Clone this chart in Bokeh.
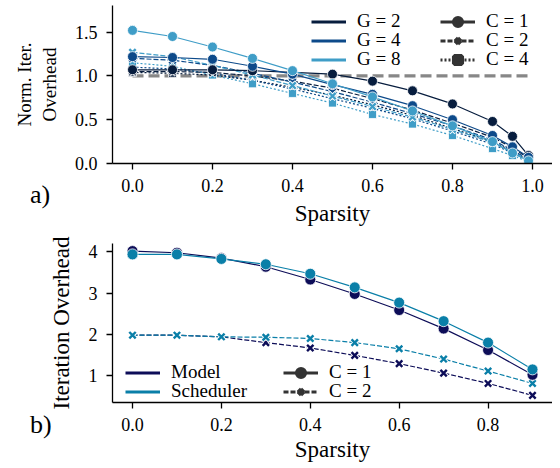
import math
import numpy as np
from bokeh.plotting import figure
from bokeh.models import (Range1d, Legend, LegendItem, FixedTicker,
                          PrintfTickFormatter, Div)
from bokeh.layouts import column
from bokeh.embed import file_html
from bokeh.resources import INLINE

FONT = "Liberation Serif"

# ---------------- data: panel a) ----------------
sparsity_a = [0.0, 0.1, 0.2, 0.3, 0.4, 0.5, 0.6, 0.7, 0.8, 0.9, 0.95, 0.99]
g2_c1 = [1.07, 1.07, 1.07, 1.06, 1.04, 1.02, 0.94, 0.83, 0.68, 0.48, 0.31, 0.09]
g4_c1 = [1.22, 1.21, 1.19, 1.11, 1.02, 0.90, 0.79, 0.66, 0.50, 0.32, 0.19, 0.07]
g8_c1 = [1.52, 1.45, 1.33, 1.20, 1.06, 0.91, 0.76, 0.60, 0.43, 0.25, 0.12, 0.03]
g2_c2 = [1.05, 1.05, 1.04, 1.00, 0.94, 0.86, 0.74, 0.61, 0.46, 0.30, 0.18, 0.06]
g4_c2 = [1.20, 1.18, 1.12, 1.03, 0.93, 0.82, 0.70, 0.57, 0.43, 0.27, 0.15, 0.05]
g8_c2 = [1.27, 1.22, 1.12, 1.01, 0.89, 0.77, 0.65, 0.53, 0.39, 0.24, 0.13, 0.04]
g2_c4 = [1.04, 1.03, 1.01, 0.95, 0.87, 0.78, 0.67, 0.55, 0.40, 0.25, 0.14, 0.04]
g4_c4 = [1.10, 1.08, 1.03, 0.95, 0.85, 0.74, 0.63, 0.51, 0.37, 0.22, 0.12, 0.03]
g8_c4 = [1.15, 1.11, 1.01, 0.91, 0.80, 0.69, 0.56, 0.45, 0.32, 0.17, 0.09, 0.02]
ref_level = [1.0, 1.0]
ref_span = [0.0, 0.99]
g_labels = ["G = 2", "G = 4", "G = 8"]
c_labels_a = ["C = 1", "C = 2", "C = 4"]
ticks_a_x = [0.0, 0.2, 0.4, 0.6, 0.8, 1.0]
ticks_a_y = [0.0, 0.5, 1.0, 1.5]

# ---------------- data: panel b) ----------------
sparsity_b = [0.0, 0.1, 0.2, 0.3, 0.4, 0.5, 0.6, 0.7, 0.8, 0.9]
model_c1 = [4.02, 3.98, 3.85, 3.64, 3.33, 2.98, 2.59, 2.14, 1.62, 1.02]
sched_c1 = [3.94, 3.94, 3.83, 3.70, 3.47, 3.14, 2.77, 2.32, 1.80, 1.15]
model_c2 = [1.98, 1.98, 1.94, 1.80, 1.67, 1.49, 1.29, 1.06, 0.81, 0.52]
sched_c2 = [1.98, 1.98, 1.94, 1.93, 1.90, 1.80, 1.65, 1.40, 1.11, 0.81]
src_labels = ["Model", "Scheduler"]
c_labels_b = ["C = 1", "C = 2"]
ticks_b_x = [0.0, 0.2, 0.4, 0.6, 0.8]
ticks_b_y = [1, 2, 3, 4]

# ---------------- styles ----------------
G_COLORS = ["#071d3e", "#0d4a8a", "#3f9dc7"]
SRC_COLORS = ["#0d0d58", "#0a7fa8"]
C_STYLE = {1: ("circle", "solid"), 2: ("x", "5 2"), 4: ("square", "2 2")}
LEG_GRAY = "#333333"
NO_DATA = np.array([np.nan])  # legend-only renderers (never visible)


def style_axes(p, fmt_x, fmt_y):
    p.outline_line_color = None
    p.grid.visible = False
    for ax in (p.xaxis[0], p.yaxis[0]):
        ax.axis_line_width = 1.3
        ax.axis_line_color = "black"
        ax.major_tick_out = 6
        ax.major_tick_in = 0
        ax.minor_tick_out = 0
        ax.minor_tick_in = 0
        ax.major_tick_line_width = 1.3
        ax.major_label_text_font = FONT
        ax.major_label_text_font_size = "18px"
        ax.major_label_text_color = "black"
        ax.major_label_standoff = 9
        ax.axis_label_text_font = FONT
        ax.axis_label_text_font_size = "23px"
        ax.axis_label_text_font_style = "normal"
        ax.axis_label_text_color = "black"
    p.xaxis[0].formatter = PrintfTickFormatter(format=fmt_x)
    p.yaxis[0].formatter = PrintfTickFormatter(format=fmt_y)


def draw_series(p, x, y, color, marker, dash, msize=10):
    p.line(x, y, line_color=color, line_width=1.2, line_dash=dash)
    if marker == "circle":
        p.scatter(x, y, marker="circle", size=msize, fill_color=color,
                  line_color="white", line_width=0.8)
    elif marker == "square":
        p.scatter(x, y, marker="square", size=msize - 2, fill_color=color,
                  line_color="white", line_width=0.8)
    else:
        p.scatter(x, y, marker="x", size=msize, line_color="white",
                  line_width=4.2)
        p.scatter(x, y, marker="x", size=msize - 1, line_color=color,
                  line_width=2.4)


def legend_marker(p, marker, dash):
    rl = p.line(NO_DATA, NO_DATA, line_color=LEG_GRAY, line_width=3,
                line_dash=dash)
    if marker == "x":
        rm = p.scatter(NO_DATA, NO_DATA, marker="x", line_color=LEG_GRAY,
                       line_width=4.5)
    else:
        rm = p.scatter(NO_DATA, NO_DATA, marker=marker, fill_color=LEG_GRAY,
                       line_color=LEG_GRAY, line_width=4.5)
    return [rl, rm]


def add_legend_rows(p, items, vx, vys):
    # one single-entry legend per row, so the row pitch can be set exactly
    for item, vy in zip(items, vys):
        p.add_layout(Legend(items=[item], location=(vx, vy),
                            glyph_width=35, glyph_height=19, label_height=19,
                            label_standoff=11, spacing=0, padding=0, margin=0,
                            border_line_color=None, background_fill_alpha=0,
                            label_text_font=FONT, label_text_font_size="19px",
                            label_text_color="black"))


def panel_tag(text, left, top):
    return Div(text=text, styles={"position": "absolute", "left": f"{left}px",
                                  "top": f"{top}px", "font-family": FONT,
                                  "font-size": "26px", "line-height": "1",
                                  "color": "black"})


# ================= panel a) =================
p1 = figure(width=552, height=233, x_range=Range1d(-0.05, 1.05),
            y_range=Range1d(0.0, 1.804), output_backend="svg",
            toolbar_location=None, min_border_left=112, min_border_right=0,
            min_border_top=5, min_border_bottom=70)
p1.xaxis.axis_label = "Sparsity"
p1.yaxis.axis_label = "Norm. Iter.\nOverhead"
p1.xaxis.ticker = FixedTicker(ticks=ticks_a_x)
p1.yaxis.ticker = FixedTicker(ticks=ticks_a_y)
style_axes(p1, "%.1f", "%.1f")
p1.xaxis[0].axis_label_standoff = 6
p1.yaxis[0].axis_label_standoff = 12
p1.yaxis[0].axis_label_text_font_size = "19px"

p1.line(ref_span, ref_level, line_color="#878787", line_width=3.2,
        line_dash="11 5")

series_a = {
    4: [g2_c4, g4_c4, g8_c4],
    2: [g2_c2, g4_c2, g8_c2],
    1: [g2_c1, g4_c1, g8_c1],
}
for c in (4, 2, 1):
    marker, dash = C_STYLE[c]
    for vals, col in zip(series_a[c], G_COLORS):
        draw_series(p1, sparsity_a, vals, col, marker, dash)

g_items = []
for lab, col in zip(g_labels, G_COLORS):
    r = p1.line(NO_DATA, NO_DATA, line_color=col, line_width=3)
    g_items.append(LegendItem(label=lab, renderers=[r]))
c_items_a = []
for lab, c in zip(c_labels_a, (1, 2, 4)):
    marker, dash = C_STYLE[c]
    c_items_a.append(LegendItem(label=lab, renderers=legend_marker(p1, marker, dash)))
add_legend_rows(p1, g_items, 199, (131, 112, 93))
add_legend_rows(p1, c_items_a, 328, (131, 112, 93))

# ================= panel b) =================
p2 = figure(width=552, height=231, x_range=Range1d(-0.045, 0.945),
            y_range=Range1d(0.347, 4.204), output_backend="svg",
            toolbar_location=None, min_border_left=112, min_border_right=0,
            min_border_top=10, min_border_bottom=57)
p2.xaxis.axis_label = "Sparsity"
p2.yaxis.axis_label = "Iteration Overhead"
p2.xaxis.ticker = FixedTicker(ticks=ticks_b_x)
p2.yaxis.ticker = FixedTicker(ticks=ticks_b_y)
style_axes(p2, "%.1f", "%d")
p2.xaxis[0].axis_label_standoff = 3
p2.yaxis[0].axis_label_standoff = 12

draw_series(p2, sparsity_b, model_c2, SRC_COLORS[0], "x", "5 2", msize=10)
draw_series(p2, sparsity_b, sched_c2, SRC_COLORS[1], "x", "5 2", msize=10)
draw_series(p2, sparsity_b, model_c1, SRC_COLORS[0], "circle", "solid", msize=11)
draw_series(p2, sparsity_b, sched_c1, SRC_COLORS[1], "circle", "solid", msize=11)

s_items = []
for lab, col in zip(src_labels, SRC_COLORS):
    r = p2.line(NO_DATA, NO_DATA, line_color=col, line_width=3)
    s_items.append(LegendItem(label=lab, renderers=[r]))
c_items_b = []
for lab, c in zip(c_labels_b, (1, 2)):
    marker, dash = C_STYLE[c]
    c_items_b.append(LegendItem(label=lab, renderers=legend_marker(p2, marker, dash)))
add_legend_rows(p2, s_items, 13, (19, 0))
add_legend_rows(p2, c_items_b, 171, (19, 0))

layout = column(p1, p2, panel_tag("a)", 25, 177), panel_tag("b)", 25, 407))
open("out.html", "w").write(file_html(layout, INLINE))
